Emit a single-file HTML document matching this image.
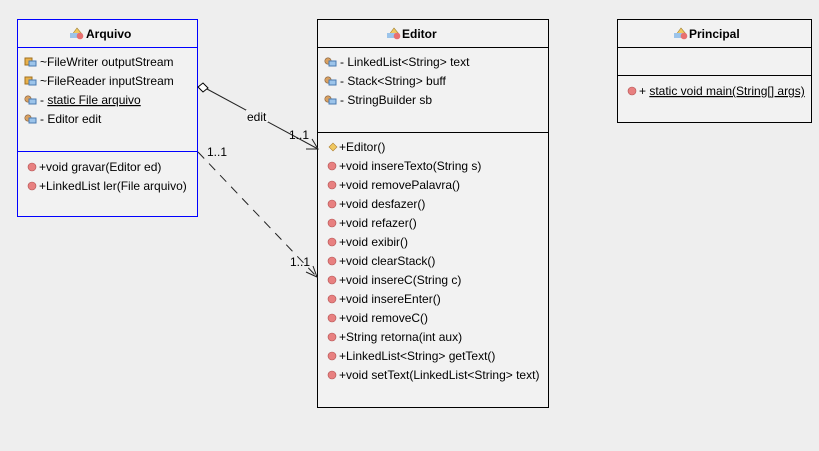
<!DOCTYPE html>
<html><head><style>
body{margin:0;width:819px;height:446px;background:#eeeeee;overflow:hidden;font-family:"Liberation Sans",sans-serif;}
svg text{font-family:"Liberation Sans",sans-serif;font-size:12px;fill:#000;}
.b{font-weight:bold;font-size:12px}
</style></head><body>
<svg width="819" height="446" xmlns="http://www.w3.org/2000/svg" shape-rendering="crispEdges">
<defs>
<g id="fld"><rect x="0" y="-4" width="7" height="7" fill="#e8b04a" stroke="#a07020" stroke-width="0.7"/><rect x="4" y="-1" width="7" height="5" fill="#9cc4ea" stroke="#4a7ab0" stroke-width="0.7"/></g>
<g id="pfld"><circle cx="3" cy="-1" r="3.2" fill="#d9a060" stroke="#806040" stroke-width="0.6" shape-rendering="auto"/><rect x="4" y="-1" width="7" height="5" fill="#9cc4ea" stroke="#4a7ab0" stroke-width="0.7"/></g>
<g id="mth"><circle cx="4" cy="0" r="4" fill="#e88080" stroke="#b05050" stroke-width="0.6" shape-rendering="auto"/></g>
<g id="cls" shape-rendering="auto"><path d="M0 6 L6 -2 L11 4 Z" fill="#f0c860" stroke="#a08030" stroke-width="0.6"/><rect x="-1" y="3" width="9" height="5" fill="#9cc4ea"/><circle cx="9" cy="6" r="3.3" fill="#e87070"/></g>
</defs>
<!-- Arquivo -->
<rect x="17" y="19" width="181" height="198" fill="#f2f2f2"/>
<rect x="17" y="19" width="181" height="1" fill="#0000ff"/>
<rect x="17" y="216" width="181" height="1" fill="#0000ff"/>
<rect x="17" y="19" width="1" height="198" fill="#0000ff"/>
<rect x="197" y="19" width="1" height="198" fill="#0000ff"/>
<rect x="17" y="47" width="181" height="1" fill="#0000ff"/>
<rect x="17" y="151" width="181" height="1" fill="#0000ff"/>
<use href="#cls" x="71" y="30"/><text x="86" y="38" class="b">Arquivo</text>
<use href="#fld" x="25" y="62"/><text x="40" y="66">~FileWriter outputStream</text>
<use href="#fld" x="25" y="81"/><text x="40" y="85">~FileReader inputStream</text>
<use href="#pfld" x="25" y="100"/><text x="40" y="104">- <tspan text-decoration="underline">static File arquivo</tspan></text>
<use href="#pfld" x="25" y="119"/><text x="40" y="123">- Editor edit</text>
<use href="#mth" x="28" y="167"/><text x="39" y="171">+void gravar(Editor ed)</text>
<use href="#mth" x="28" y="186"/><text x="39" y="190">+LinkedList ler(File arquivo)</text>
<!-- Editor -->
<rect x="317.5" y="19.5" width="231" height="388" fill="#f2f2f2" stroke="#000"/>
<line x1="317.5" y1="47.5" x2="548.5" y2="47.5" stroke="#000"/>
<line x1="317.5" y1="132.5" x2="548.5" y2="132.5" stroke="#000"/>
<use href="#cls" x="388" y="30"/><text x="402" y="38" class="b">Editor</text>
<use href="#pfld" x="325" y="62"/><text x="340" y="66">- LinkedList&lt;String&gt; text</text>
<use href="#pfld" x="325" y="81"/><text x="340" y="85">- Stack&lt;String&gt; buff</text>
<use href="#pfld" x="325" y="100"/><text x="340" y="104">- StringBuilder sb</text>
<path d="M329 147 L333 143 L337 147 L333 151 Z" fill="#f0c860" stroke="#b08030" stroke-width="0.6" shape-rendering="auto"/>
<text x="339" y="151">+Editor()</text>
<g>
<use href="#mth" x="328" y="166"/><text x="339" y="170">+void insereTexto(String s)</text>
<use href="#mth" x="328" y="185"/><text x="339" y="189">+void removePalavra()</text>
<use href="#mth" x="328" y="204"/><text x="339" y="208">+void desfazer()</text>
<use href="#mth" x="328" y="223"/><text x="339" y="227">+void refazer()</text>
<use href="#mth" x="328" y="242"/><text x="339" y="246">+void exibir()</text>
<use href="#mth" x="328" y="261"/><text x="339" y="265">+void clearStack()</text>
<use href="#mth" x="328" y="280"/><text x="339" y="284">+void insereC(String c)</text>
<use href="#mth" x="328" y="299"/><text x="339" y="303">+void insereEnter()</text>
<use href="#mth" x="328" y="318"/><text x="339" y="322">+void removeC()</text>
<use href="#mth" x="328" y="337"/><text x="339" y="341">+String retorna(int aux)</text>
<use href="#mth" x="328" y="356"/><text x="339" y="360">+LinkedList&lt;String&gt; getText()</text>
<use href="#mth" x="328" y="375"/><text x="339" y="379">+void setText(LinkedList&lt;String&gt; text)</text>
</g>
<!-- Principal -->
<rect x="617.5" y="19.5" width="194" height="103" fill="#f2f2f2" stroke="#000"/>
<line x1="617.5" y1="47.5" x2="811.5" y2="47.5" stroke="#000"/>
<line x1="617.5" y1="75.5" x2="811.5" y2="75.5" stroke="#000"/>
<use href="#cls" x="675" y="30"/><text x="689" y="38" class="b">Principal</text>
<use href="#mth" x="628" y="91"/><text x="639" y="95">+ <tspan text-decoration="underline">static void main(String[] args)</tspan></text>
<!-- connectors -->
<g shape-rendering="auto">
<path d="M198 87 L203 83 L208 88 L203 92 Z" fill="#fff" stroke="#000" stroke-width="1"/>
<line x1="207" y1="89" x2="318" y2="149" stroke="#222" stroke-width="1"/>
<path d="M306 149 L318 149 L312 139" fill="none" stroke="#222" stroke-width="1"/>
<rect x="246" y="110" width="22" height="12" fill="#f2f2f2"/>
<text x="247" y="121">edit</text>
<text x="289" y="139">1..1</text>
<line x1="198" y1="152" x2="317" y2="277" stroke="#222" stroke-width="1" stroke-dasharray="9,7"/>
<path d="M306 272 L317 277 L313 266" fill="none" stroke="#222" stroke-width="1"/>
<text x="207" y="156">1..1</text>
<text x="290" y="266">1..1</text>
</g>
</svg>
</body></html>
